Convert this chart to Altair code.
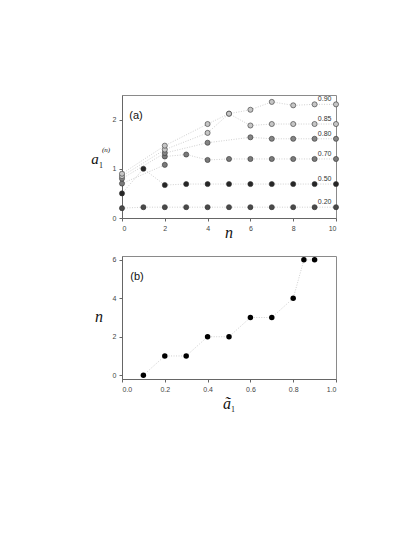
import altair as alt
import pandas as pd

# ---- panel (a) data ----
series_names = ["0.20", "0.50", "0.70", "0.80", "0.85", "0.90"]
series_fill = ["#4a4a4a", "#262626", "#7a7a7a", "#858585", "#c6c6c6", "#c6c6c6"]

n_020 = [0, 1, 2, 3, 4, 5, 6, 7, 8, 9, 10]
a_020 = [0.20, 0.22, 0.22, 0.22, 0.22, 0.22, 0.22, 0.22, 0.22, 0.22, 0.22]
n_050 = [0, 1, 2, 3, 4, 5, 6, 7, 8, 9, 10]
a_050 = [0.50, 1.00, 0.67, 0.69, 0.69, 0.69, 0.69, 0.69, 0.69, 0.69, 0.69]
n_070 = [0, 2, 2, 3, 4, 5, 6, 7, 8, 9, 10]
a_070 = [0.70, 1.08, 1.25, 1.29, 1.18, 1.20, 1.20, 1.20, 1.20, 1.20, 1.20]
n_080 = [0, 2, 4, 6, 7, 8, 9, 10]
a_080 = [0.80, 1.32, 1.53, 1.64, 1.61, 1.61, 1.61, 1.61]
n_085 = [0, 2, 4, 5, 6, 7, 8, 9, 10]
a_085 = [0.85, 1.39, 1.73, 2.12, 1.88, 1.91, 1.91, 1.91, 1.91]
n_090 = [0, 2, 4, 5, 6, 7, 8, 9, 10]
a_090 = [0.90, 1.47, 1.91, 2.12, 2.20, 2.36, 2.29, 2.31, 2.31]

top_x_ticks = [0, 2, 4, 6, 8, 10]
top_y_ticks = [0, 1, 2]

# ---- panel (b) data ----
a_tilde = [0.10, 0.20, 0.30, 0.40, 0.50, 0.60, 0.70, 0.80, 0.85, 0.90]
n_conv = [0, 1, 1, 2, 2, 3, 3, 4, 6, 6]
bot_x_ticks = [0.0, 0.2, 0.4, 0.6, 0.8, 1.0]
bot_y_ticks = [0, 2, 4, 6]

ns = [n_020, n_050, n_070, n_080, n_085, n_090]
vs = [a_020, a_050, a_070, a_080, a_085, a_090]
rows = []
lab_rows = []
for name, fill, nn, vv in zip(series_names, series_fill, ns, vs):
    for i, (n, v) in enumerate(zip(nn, vv)):
        rows.append({"series": name, "n": n, "a": v, "ord": i, "fill": fill})
    lab_rows.append({"series": name, "n": 9.15, "a": vv[-1]})
top_df = pd.DataFrame(rows)
lab_df = pd.DataFrame(lab_rows)
bot_df = pd.DataFrame({"at": a_tilde, "n": n_conv})

W, H = 214, 123
serif = "Liberation Serif"
sans = "Liberation Sans"

xt = alt.X("n:Q", scale=alt.Scale(domain=[0, 10], nice=False),
           axis=alt.Axis(values=top_x_ticks, format="d", title=None))
yt = alt.Y("a:Q", scale=alt.Scale(domain=[0, 2.5], nice=False),
           axis=alt.Axis(values=top_y_ticks, format="d", title=None))

base_t = alt.Chart(top_df)
lines_t = base_t.mark_line(color="#c4c4c4", strokeDash=[1, 1.5], strokeWidth=0.8).encode(
    x=xt, y=yt, detail="series:N", order="ord:Q")
pts_t = base_t.mark_circle(size=26, stroke="#333333", strokeWidth=0.6, opacity=1).encode(
    x=xt, y=yt, fill=alt.Fill("fill:N", scale=None))
labs_t = alt.Chart(lab_df).mark_text(align="left", baseline="middle", dy=-5, fontSize=7,
                                     font=sans, color="#333333").encode(
    x=alt.X("n:Q"), y=alt.Y("a:Q"), text="series:N")


def txt(s, x, y, size, font=serif, style="italic", color="#111111"):
    return alt.Chart(pd.DataFrame({"t": [s]})).mark_text(
        fontSize=size, font=font, fontStyle=style, color=color,
        align="center", baseline="middle").encode(
        x=alt.value(x), y=alt.value(y), text="t:N")


top = alt.layer(
    lines_t, pts_t, labs_t,
    txt("(a)", 14, 21, 11, font=sans, style="normal"),
    txt("a", -27, 64, 15),
    txt("1", -21, 71, 8, style="normal"),
    txt("(n)", -16, 55, 7),
    txt("n", 107, 138, 16),
).properties(width=W, height=H)

xb = alt.X("at:Q", scale=alt.Scale(domain=[0, 1], nice=False),
           axis=alt.Axis(values=bot_x_ticks, format=".1f", title=None))
yb = alt.Y("n:Q", scale=alt.Scale(domain=[-0.2, 6.2], nice=False),
           axis=alt.Axis(values=bot_y_ticks, format="d", title=None))
base_b = alt.Chart(bot_df)
lines_b = base_b.mark_line(color="#c4c4c4", strokeDash=[1, 1.5], strokeWidth=0.8).encode(x=xb, y=yb)
pts_b = base_b.mark_circle(size=30, color="#000000", opacity=1).encode(x=xb, y=yb)

bottom = alt.layer(
    lines_b, pts_b,
    txt("(b)", 15, 21, 11, font=sans, style="normal"),
    txt("n", -23, 61, 16),
    txt("a\u0303", 105, 148, 16),
    txt("1", 111, 154, 8, style="normal"),
).properties(width=W, height=H)

chart = alt.vconcat(top, bottom, spacing=38, bounds="flush").properties(
    padding={"left": 82, "top": 86, "right": 5, "bottom": 5}
).configure_view(stroke="#8a8a8a", strokeWidth=1).configure_axis(
    domainColor="#666666", tickColor="#666666", tickSize=3, labelFontSize=7,
    labelFont=sans, labelColor="#444444", labelPadding=3, grid=False, domainWidth=1
)

chart.save("out.html", embed_options={"renderer": "svg", "actions": False})
